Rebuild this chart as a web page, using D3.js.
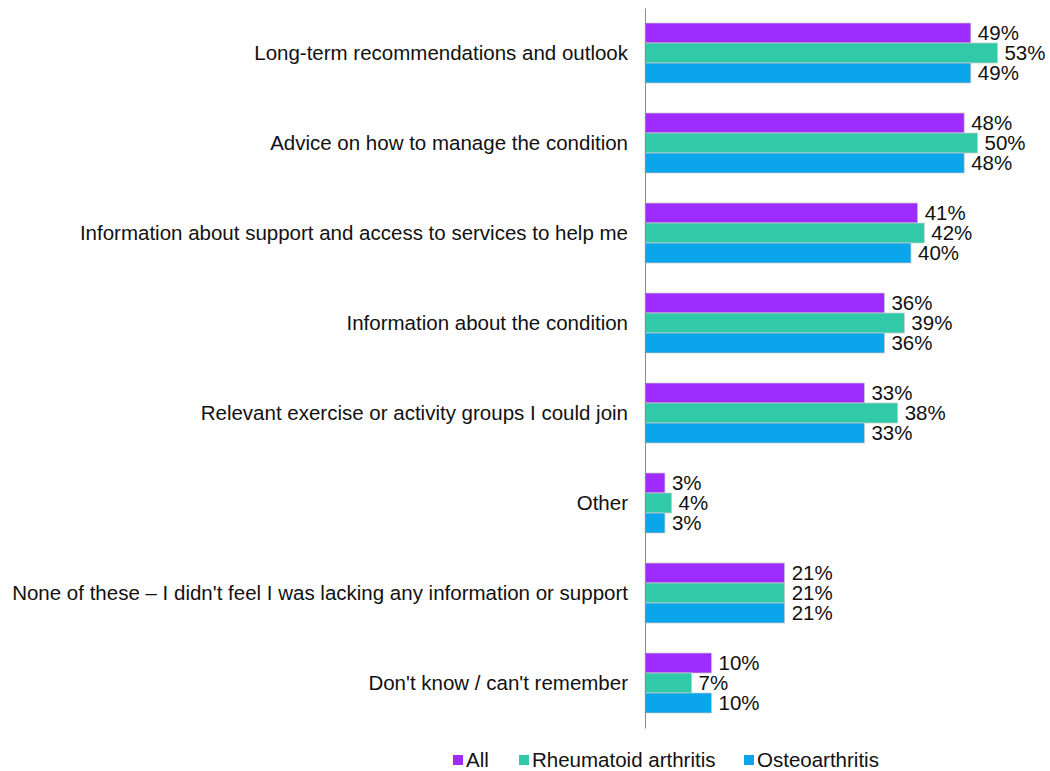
<!DOCTYPE html>
<html>
<head>
<meta charset="utf-8">
<script src="https://cdn.jsdelivr.net/npm/d3@7"></script>
<style>
  body { margin: 0; background: #fff; }
  svg { display: block; font-family: "Liberation Sans", Arial, sans-serif; }
</style>
</head>
<body>
<svg id="chart" width="1050" height="771"></svg>
<script>
const categories = [
  "Long-term recommendations and outlook",
  "Advice on how to manage the condition",
  "Information about support and access to services to help me",
  "Information about the condition",
  "Relevant exercise or activity groups I could join",
  "Other",
  "None of these \u2013 I didn't feel I was lacking any information or support",
  "Don't know / can't remember"
];
const seriesNames = ["All", "Rheumatoid arthritis", "Osteoarthritis"];
const allValues = [49, 48, 41, 36, 33, 3, 21, 10];
const rheumatoidValues = [53, 50, 42, 39, 38, 4, 21, 7];
const osteoValues = [49, 48, 40, 36, 33, 3, 21, 10];
const seriesColors = ["#9e2bff", "#30caa8", "#0aa5eb"];

const seriesValues = [allValues, rheumatoidValues, osteoValues];

const FONT = 20.5;
const svg = d3.select("#chart");
const axisX = 645;
const plotTop = 8, plotBottom = 728;

const x = d3.scaleLinear().domain([0, 100]).range([axisX, axisX + 665]);
const y = d3.scaleBand().domain(categories).range([plotTop, plotBottom]).paddingInner(1/3).paddingOuter(1/6);
const ySub = d3.scaleBand().domain(seriesNames).range([0, y.bandwidth()]);

const groups = svg.append("g").selectAll("g")
  .data(categories)
  .join("g")
  .attr("transform", d => `translate(0,${y(d)})`);

seriesNames.forEach((name, si) => {
  groups.append("rect")
    .attr("x", x(0))
    .attr("y", ySub(name))
    .attr("width", (d, i) => x(seriesValues[si][i]) - x(0))
    .attr("height", ySub.bandwidth())
    .attr("fill", seriesColors[si])
    .attr("stroke", "#c9c9c9")
    .attr("stroke-width", 0.75);

  groups.append("text")
    .attr("x", (d, i) => x(seriesValues[si][i]) + 7)
    .attr("y", ySub(name) + ySub.bandwidth() / 2)
    .attr("dy", "0.35em")
    .attr("font-size", FONT)
    .attr("fill", "#111")
    .text((d, i) => seriesValues[si][i] + "%");
});

// category axis on the left
const yAxis = d3.axisLeft(y).tickSize(0).tickPadding(17);
const ax = svg.append("g").attr("transform", `translate(${axisX},0)`).call(yAxis);
ax.select(".domain").attr("stroke", "#8c8c8c").attr("stroke-width", 1);
ax.selectAll("text").attr("font-size", FONT).attr("fill", "#111")
  .attr("font-family", "Liberation Sans, Arial, sans-serif");

// legend
const legendItems = [
  { name: "All", x: 453 },
  { name: "Rheumatoid arthritis", x: 519 },
  { name: "Osteoarthritis", x: 744 }
];
const legend = svg.append("g").selectAll("g")
  .data(legendItems)
  .join("g")
  .attr("transform", d => `translate(${d.x},760)`);
legend.append("rect")
  .attr("x", 0).attr("y", -5).attr("width", 10).attr("height", 10)
  .attr("fill", (d, i) => seriesColors[i]);
legend.append("text")
  .attr("x", 13).attr("dy", "0.35em")
  .attr("font-size", FONT).attr("fill", "#111")
  .text(d => d.name);
</script>
</body>
</html>
